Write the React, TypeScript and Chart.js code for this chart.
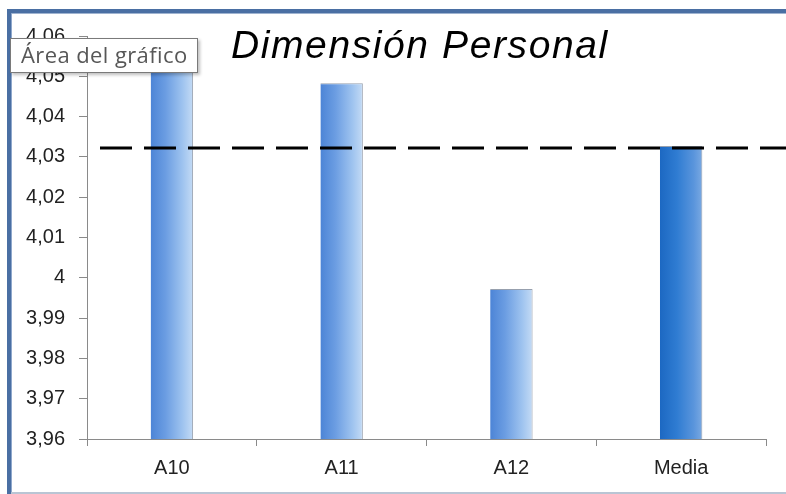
import React, { useEffect, useRef } from "react";
import { Chart, registerables } from "chart.js";

Chart.register(...registerables);

const TITLE = "Dimensión Personal";
const TOOLTIP_TEXT = "Área del gráfico";
const CATEGORIES = ["A10", "A11", "A12", "Media"];
const VALUES = [4.0525, 4.0483, 3.9972, 4.0327];
const MEAN_LINE = [4.0322];
const Y_MIN = 3.96;
const Y_MAX = 4.06;
const Y_STEP = 0.01;

const fmt = (v: number) => String(Number(v.toFixed(2))).replace(".", ",");

export default function App() {
  const ref = useRef<HTMLCanvasElement | null>(null);

  useEffect(() => {
    const canvas = ref.current;
    if (!canvas) return;

    const barFill = (c: any) => {
      const chart = c.chart;
      const xs = chart.scales?.x;
      if (!chart.chartArea || !xs) return "#6d9de0";
      const i = c.dataIndex;
      const cx = xs.getPixelForValue(i);
      const w = (xs.width / CATEGORIES.length) * 0.25;
      const g = chart.ctx.createLinearGradient(cx - w / 2, 0, cx + w / 2, 0);
      if (i === CATEGORIES.length - 1) {
        g.addColorStop(0, "#1c68c2");
        g.addColorStop(0.4, "#2f7cd2");
        g.addColorStop(0.8, "#5a95dc");
        g.addColorStop(1, "#7aa9e2");
      } else {
        g.addColorStop(0, "#4c84d6");
        g.addColorStop(0.35, "#6b9de2");
        g.addColorStop(0.75, "#9ec3ef");
        g.addColorStop(1, "#c4dbf5");
      }
      return g;
    };

    const setSpacing = (ctx: any, v: string) => {
      try {
        ctx.letterSpacing = v;
      } catch (e) {}
    };

    const framePlugin = {
      id: "frame",
      beforeDraw(chart: any) {
        const ctx = chart.ctx;
        ctx.save();
        ctx.fillStyle = "#ffffff";
        ctx.fillRect(0, 0, chart.width, chart.height);
        ctx.fillStyle = "#4a6fa3";
        ctx.fillRect(7, 9, chart.width - 7, 4);
        ctx.fillStyle = "#9fb3d0";
        ctx.fillRect(7, 13, chart.width - 7, 1);
        ctx.fillStyle = "#4a6fa3";
        ctx.fillRect(7, 9, 4, chart.height - 9);
        ctx.fillStyle = "#8fa8cc";
        ctx.fillRect(11, 13, 1, chart.height - 13);
        ctx.fillStyle = "#b9c5d4";
        ctx.fillRect(11, chart.height - 2, chart.width - 11, 2);
        ctx.restore();
      },
      afterDatasetsDraw(chart: any) {
        const ctx = chart.ctx;
        const y = chart.scales.y.getPixelForValue(MEAN_LINE[0]);
        ctx.save();
        ctx.strokeStyle = "#000000";
        ctx.lineWidth = 3;
        ctx.setLineDash([32, 12]);
        ctx.beginPath();
        ctx.moveTo(100, y);
        ctx.lineTo(chart.width, y);
        ctx.stroke();
        ctx.restore();
      },
      afterDraw(chart: any) {
        const ctx = chart.ctx;
        ctx.save();
        ctx.fillStyle = "#000000";
        ctx.font = "italic 39px 'Liberation Sans', Arial, sans-serif";
        setSpacing(ctx, "1.6px");
        ctx.textAlign = "left";
        ctx.textBaseline = "alphabetic";
        ctx.fillText(TITLE, 231, 58);
        setSpacing(ctx, "0.4px");
        ctx.shadowColor = "rgba(0,0,0,0.25)";
        ctx.shadowBlur = 3;
        ctx.shadowOffsetX = 2;
        ctx.shadowOffsetY = 2;
        ctx.fillStyle = "#ffffff";
        ctx.fillRect(10, 38, 188, 35);
        ctx.shadowColor = "transparent";
        ctx.strokeStyle = "#7a7a7a";
        ctx.lineWidth = 1;
        ctx.strokeRect(10.5, 38.5, 187, 34);
        ctx.fillStyle = "#575757";
        ctx.font = "22px 'Open Sans', 'Noto Sans', sans-serif";
        ctx.textAlign = "left";
        ctx.fillText(TOOLTIP_TEXT, 21, 63);
        ctx.restore();
      },
    };

    const chart = new Chart(canvas, {
      type: "bar",
      data: {
        labels: CATEGORIES,
        datasets: [
          {
            data: VALUES,
            backgroundColor: barFill,
            borderColor: "rgba(140,150,165,0.9)",
            borderWidth: { left: 0, right: 1, top: 1, bottom: 0 } as any,
            borderSkipped: "bottom",
            categoryPercentage: 1,
            barPercentage: 0.25,
          },
        ],
      },
      options: {
        animation: false,
        responsive: false,
        maintainAspectRatio: false,
        layout: { padding: { left: 0, right: 20, top: 36, bottom: 0 } },
        plugins: {
          legend: { display: false },
          title: { display: false },
          tooltip: { enabled: false },
        },
        scales: {
          x: {
            grid: {
              offset: true,
              drawOnChartArea: false,
              drawTicks: true,
              tickLength: 7,
              color: "#8a8a8a",
            },
            border: { display: true, color: "#8a8a8a", width: 1 },
            ticks: {
              color: "#222222",
              font: { size: 20, family: "'Liberation Sans', Arial, sans-serif" },
              padding: 10,
            },
            afterFit: (s: any) => {
              s.height = 55;
            },
          },
          y: {
            min: Y_MIN,
            max: Y_MAX,
            grid: {
              drawOnChartArea: false,
              drawTicks: true,
              tickLength: 8,
              color: "#8a8a8a",
            },
            border: { display: true, color: "#8a8a8a", width: 1 },
            ticks: {
              stepSize: Y_STEP,
              color: "#222222",
              font: { size: 20, family: "'Liberation Sans', Arial, sans-serif" },
              padding: 14,
              callback: (v: any) => fmt(Number(v)),
            },
            afterFit: (s: any) => {
              s.width = 87;
            },
          },
        },
      },
      plugins: [framePlugin],
    });

    return () => chart.destroy();
  }, []);

  return (
    <div style={{ position: "fixed", left: 0, top: 0, width: 786, height: 494 }}>
      <canvas ref={ref} width={786} height={494} style={{ display: "block", width: 786, height: 494 }} />
    </div>
  );
}
